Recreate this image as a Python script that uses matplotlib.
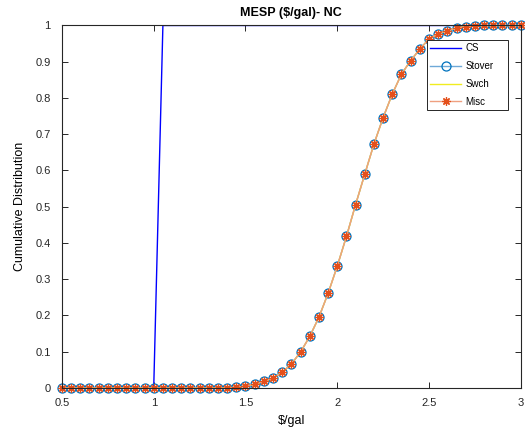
import matplotlib
matplotlib.use("Agg")
import matplotlib.pyplot as plt

plt.rcParams['font.family'] = ['Liberation Sans', 'DejaVu Sans']

x_vals = [0.5, 0.55, 0.6, 0.65, 0.7, 0.75, 0.8, 0.85, 0.9, 0.95,
          1.0, 1.05, 1.1, 1.15, 1.2, 1.25, 1.3, 1.35, 1.4, 1.45,
          1.5, 1.55, 1.6, 1.65, 1.7, 1.75, 1.8, 1.85, 1.9, 1.95,
          2.0, 2.05, 2.1, 2.15, 2.2, 2.25, 2.3, 2.35, 2.4, 2.45,
          2.5, 2.55, 2.6, 2.65, 2.7, 2.75, 2.8, 2.85, 2.9, 2.95, 3.0]

cs = [0] * 11 + [1] * 40

stover = [0, 0, 0, 0, 0, 0, 0, 0, 0, 0,
          0, 0, 0, 0, 0, 0, 0, 0, 0, 0.002,
          0.005, 0.01, 0.018, 0.027, 0.043, 0.066, 0.099, 0.142, 0.195, 0.261,
          0.336, 0.418, 0.506, 0.59, 0.673, 0.746, 0.811, 0.866, 0.903, 0.935,
          0.963, 0.977, 0.986, 0.993, 0.997, 0.999, 1, 1, 1, 1, 1]
swch = list(stover)
misc = list(stover)

xticks = [0.5, 1, 1.5, 2, 2.5, 3]
xticklabels = ['0.5', '1', '1.5', '2', '2.5', '3']
yticks = [0, 0.1, 0.2, 0.3, 0.4, 0.5, 0.6, 0.7, 0.8, 0.9, 1]
yticklabels = ['0', '0.1', '0.2', '0.3', '0.4', '0.5', '0.6', '0.7', '0.8', '0.9', '1']

fig = plt.figure(figsize=(5.25, 4.32), dpi=100)
ax = fig.add_axes([0.118, 0.102, 0.874, 0.839])

ax.plot(x_vals, cs, color='#0000FF', lw=1.0, label='CS')
ax.plot(x_vals, stover, color='#6FA9D8', lw=1.0, marker='o', ms=6.5,
        mfc='none', mec='#0072BD', mew=0.9, label='Stover', clip_on=False)
ax.plot(x_vals, swch, color='#F0EC20', lw=1.0, label='Swch')
ax.plot(x_vals, misc, color='#EFA080', lw=1.0, marker=(8, 2, 0), ms=6,
        mec='#E4501C', mfc='#E4501C', mew=0.9, label='Misc', clip_on=False)

ax.set_xlim(0.5, 3)
ax.set_ylim(0, 1)
ax.set_xticks(xticks)
ax.set_xticklabels(xticklabels)
ax.set_yticks(yticks)
ax.set_yticklabels(yticklabels)
ax.tick_params(direction='in', top=True, right=True, labelsize=8,
               length=4, width=0.7, colors='#262626')
ax.tick_params(axis='x', pad=7)
ax.tick_params(axis='y', pad=8)
for s in ax.spines.values():
    s.set_color('#262626')
    s.set_linewidth(0.8)

ax.set_title('MESP (\\$/gal)- NC', fontsize=9, fontweight='bold', pad=7)
ax.set_xlabel('\\$/gal', fontsize=9, labelpad=5.5)
ax.set_ylabel('Cumulative Distribution', fontsize=9, labelpad=7)

leg = ax.legend(loc='upper left', bbox_to_anchor=(0.795, 0.764, 0.177, 0.196),
                mode='expand', fontsize=7, fancybox=False, framealpha=1,
                edgecolor='#262626', borderpad=0.35, borderaxespad=0,
                handlelength=3.2, labelspacing=0.8, handletextpad=0.4)
leg.get_frame().set_linewidth(0.7)

fig.savefig('out.png', dpi=100)
